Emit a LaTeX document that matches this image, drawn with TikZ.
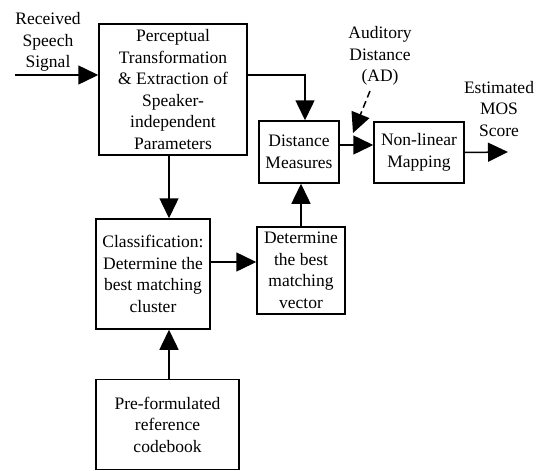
\documentclass[tikz,border=0pt]{standalone}
\usepackage{fontspec}
\setmainfont{Liberation Serif}
\usetikzlibrary{arrows.meta}
\begin{document}
\begin{tikzpicture}[x=1pt, y=-1pt, font=\fontsize{17.5}{21.5}\selectfont,
    block/.style = {shape=rectangle, draw, line width=1.5pt, align=center, inner sep=1pt},
    arr/.style = {draw, line width=1.5pt, -{Triangle[length=20pt, width=19pt]}}]
    \useasboundingbox (0,0) rectangle (546,471);
    \node[block, minimum width=148pt, minimum height=131pt] (percept) at (173,89.5) {Perceptual\\Transformation\\\& Extraction of\\Speaker-\\independent\\Parameters};
    \node[block, minimum width=80pt, minimum height=62pt] (dist) at (299,152) {Distance\\Measures};
    \node[block, minimum width=90pt, minimum height=61pt] (nonlin) at (419,152.5) {Non-linear\\Mapping};
    \node[block, minimum width=114pt, minimum height=110pt] (classif) at (153,274) {Classification:\\Determine the\\best matching\\cluster};
    \node[block, minimum width=88pt, minimum height=87pt] (match) at (301,270.5) {Determine\\the best\\matching\\vector};
    \node[block, minimum width=143pt, minimum height=90pt, text depth=-8pt] (codebook) at (167.5,424.5) {Pre-formulated\\reference\\codebook};
    \node[align=center] (speech) at (48,42) {Received\\Speech\\Signal};
    \node[align=center] (ad) at (380,56) {Auditory\\Distance\\(AD)};
    \node[align=center] (mos) at (499,109) {Estimated\\MOS\\Score};
    \coordinate (in) at (15,75);
    \coordinate (out) at (508,152);
    \coordinate (adtip) at (353,133);
    \path[arr] (in) -- ([yshift=14.5pt]percept.west);
    \path[arr] ([yshift=14.5pt]percept.east) -| ([xshift=6pt]dist.north);
    \path[arr] ([xshift=-4pt]percept.south) -- ([xshift=16pt]classif.north);
    \path[arr] ([yshift=12pt]classif.east) -- ([yshift=8.5pt]match.west);
    \path[arr] (match.north) -- (match.north |- dist.south);
    \path[arr] ([xshift=1.5pt]codebook.north) -- ([xshift=1.5pt]codebook.north |- classif.south);
    \path[arr] ([yshift=7pt]dist.east) -- ([yshift=7.5pt]nonlin.west);
    \path[arr] (nonlin.east) -- (out);
    \path[arr, dash pattern=on 7pt off 4pt] ([xshift=-10pt, yshift=-2pt]ad.south) -- (adtip);
\end{tikzpicture}
\end{document}
